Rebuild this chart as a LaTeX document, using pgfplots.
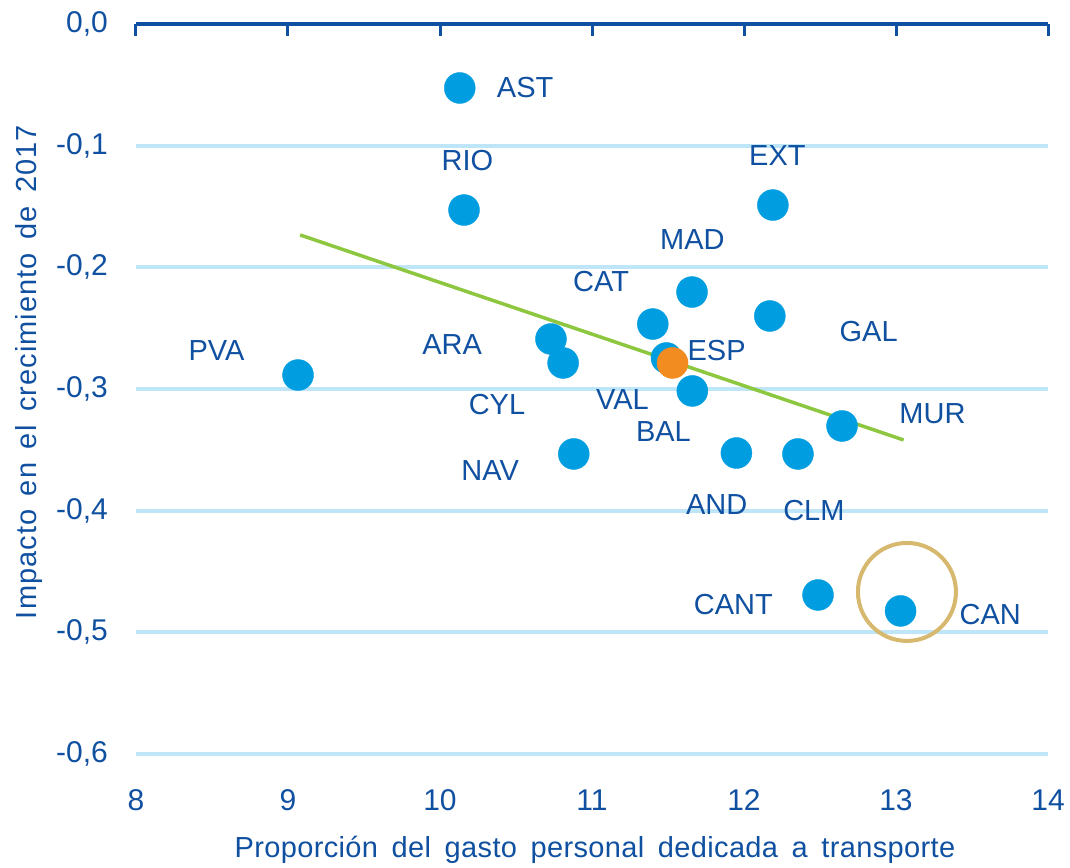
\documentclass[border=0pt]{standalone}
\usepackage{fontspec}
\setmainfont{Liberation Sans}
\newfontfamily\xlabfont{Liberation Sans}[LetterSpace=1.2]
\newfontfamily\ylabfont{Liberation Sans}[LetterSpace=3.6]
\usepackage{pgfplots}
\pgfplotsset{compat=1.18}
\definecolor{txtblue}{RGB}{16,80,160}
\definecolor{dotblue}{RGB}{0,158,224}
\definecolor{dotorange}{RGB}{243,140,32}
\definecolor{trendgreen}{RGB}{141,198,63}
\definecolor{gridblue}{RGB}{190,230,248}
\definecolor{circtan}{RGB}{214,185,110}
\begin{document}
\begin{tikzpicture}[font=\fontsize{29}{34}\selectfont]
\begin{axis}[
  name=ax,
  scale only axis,
  width=912pt, height=730pt,
  xmin=8, xmax=14, ymin=-0.6, ymax=0,
  xtick={8,9,...,14},
  ytick={-0.6,-0.5,-0.4,-0.3,-0.2,-0.1},
  extra y ticks={0},
  extra y tick style={grid style={draw=txtblue, line width=3.3pt}},
  ymajorgrids,
  grid style={draw=gridblue, line width=4pt},
  axis line style={draw=none},
  tick align=inside,
  xtick pos=upper,
  xticklabel pos=lower,
  major tick length=12pt,
  xtick style={draw=txtblue, line width=3pt},
  ytick style={draw=none},
  xticklabel style={anchor=center, inner sep=0pt, yshift=-46pt, text=txtblue, font=\fontsize{30}{34}\selectfont},
  yticklabel style={anchor=east, inner sep=0pt, xshift=-28pt, text=txtblue, font=\fontsize{30}{34}\selectfont,
    /pgf/number format/.cd, use comma, fixed, fixed zerofill, precision=1},
  /pgf/number format/assume math mode=true,
  every axis x label/.style={at={(rel axis cs:0.5,0)}, anchor=center, yshift=-96pt, xshift=3pt, text=txtblue},
  every axis y label/.style={at={(rel axis cs:0,0.5)}, anchor=center, rotate=90, yshift=107pt, xshift=17pt, text=txtblue},
  xlabel={\xlabfont\spaceskip=0.47em\relax Proporción del gasto personal dedicada a transporte},
  ylabel={\ylabfont\spaceskip=0.47em\relax Impacto en el crecimiento de 2017},
  clip=false,
]
% regions (blue)
\addplot[only marks, mark=*, mark size=15.5pt, mark options={draw=dotblue, fill=dotblue}] coordinates {
  (10.13,-0.0526)  % AST
  (10.158,-0.1529) % RIO
  (12.19,-0.1488)  % EXT
  (11.658,-0.2203) % MAD
  (11.40,-0.2466)  % CAT
  (12.17,-0.240)   % GAL
  (10.73,-0.2589)  % ARA
  (10.81,-0.2786)  % CYL
  (11.49,-0.2745)  % VAL
  (11.66,-0.3016)  % BAL
  (10.88,-0.3534)  % NAV
  (11.95,-0.3526)  % AND
  (12.355,-0.3534) % CLM
  (12.645,-0.3304) % MUR
  (12.487,-0.4693) % CANT
  (13.03,-0.4824)  % CAN
  (9.066,-0.2885)  % PVA
};
% Spain (orange)
\addplot[only marks, mark=*, mark size=15.5pt, mark options={draw=dotorange, fill=dotorange}] coordinates {
  (11.53,-0.2786)
};
% trend line
\addplot[trendgreen, line width=3.5pt] coordinates {(9.08,-0.1734) (13.05,-0.3419)};
% highlight circle
\draw[circtan, line width=4pt] (axis cs:13.072,-0.4668) circle [radius=49pt];
% labels
\begin{scope}[every node/.style={text=txtblue, inner sep=0pt, anchor=center}]
\node at (axis cs:10.56,-0.0526) {AST};
\node at (axis cs:10.18,-0.1118) {RIO};
\node at (axis cs:12.22,-0.1085) {EXT};
\node at (axis cs:11.66,-0.1775) {MAD};
\node at (axis cs:11.06,-0.212) {CAT};
\node at (axis cs:10.08,-0.2638) {ARA};
\node at (axis cs:8.53,-0.268) {PVA};
\node at (axis cs:11.82,-0.268) {ESP};
\node at (axis cs:12.82,-0.253) {GAL};
\node at (axis cs:10.375,-0.313) {CYL};
\node at (axis cs:11.20,-0.309) {VAL};
\node at (axis cs:11.47,-0.335) {BAL};
\node at (axis cs:13.24,-0.320) {MUR};
\node at (axis cs:10.33,-0.3666) {NAV};
\node at (axis cs:11.82,-0.395) {AND};
\node at (axis cs:12.46,-0.3995) {CLM};
\node at (axis cs:11.93,-0.4775) {CANT};
\node at (axis cs:13.62,-0.485) {CAN};
\end{scope}
\end{axis}
\path ([xshift=-136pt,yshift=-111pt]ax.south west) rectangle ([xshift=22pt,yshift=24pt]ax.north east);
\end{tikzpicture}
\end{document}
